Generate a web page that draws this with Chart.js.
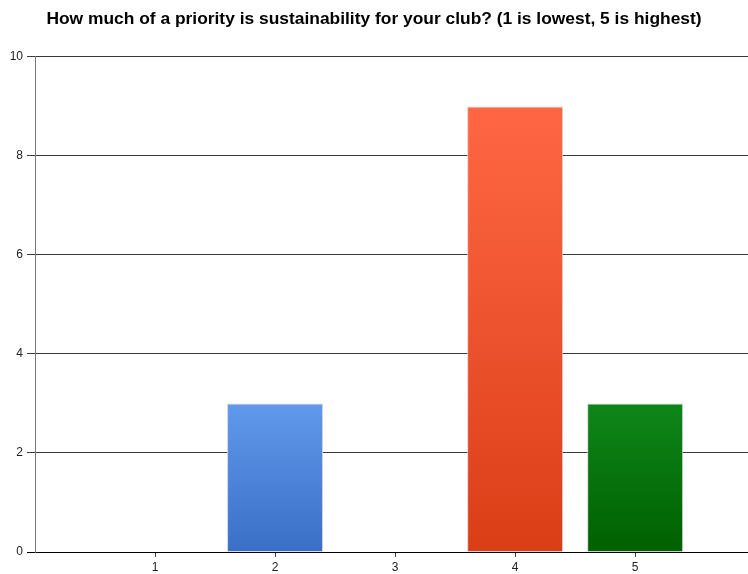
<!DOCTYPE html>
<html>
<head>
<meta charset="utf-8">
<script src="https://cdn.jsdelivr.net/npm/chart.js@4/dist/chart.umd.min.js"></script>
<style>
  html, body { margin: 0; padding: 0; background: #ffffff; overflow: hidden; }
  #wrap { width: 748px; height: 574px; position: relative; }
</style>
</head>
<body>
<div id="wrap"><canvas id="c" width="748" height="574"></canvas></div>
<script>
// Survey answers: priority rating (1 = lowest, 5 = highest) and number of clubs
const ratings = [1, 2, 3, 4, 5];
const clubCounts = [0, 3, 0, 9, 3];
const yTickValues = [0, 2, 4, 6, 8, 10];
const titleText = 'How much of a priority is sustainability for your club? (1 is lowest, 5 is highest)';

// top / bottom gradient colours for each bar
const barTopColors = ['#6a9eea', '#6199ec', '#6a9eea', '#ff6744', '#0e8619'];
const barBottomColors = ['#3a6fc6', '#3a6fc6', '#3a6fc6', '#da3e17', '#006000'];

function barGradient(ctx) {
  const chart = ctx.chart;
  const area = chart.chartArea;
  if (!area || !chart.scales.y) return barTopColors[ctx.dataIndex];
  const v = ctx.raw && ctx.raw.y !== undefined ? ctx.raw.y : 0;
  const top = chart.scales.y.getPixelForValue(v);
  const bottom = chart.scales.y.getPixelForValue(0);
  const g = chart.ctx.createLinearGradient(0, top, 0, bottom === top ? top + 1 : bottom);
  g.addColorStop(0, barTopColors[ctx.dataIndex]);
  g.addColorStop(1, barBottomColors[ctx.dataIndex]);
  return g;
}

new Chart(document.getElementById('c'), {
  type: 'bar',
  data: {
    datasets: [{
      data: ratings.map((r, i) => ({ x: r, y: clubCounts[i] })),
      backgroundColor: barGradient,
      borderColor: '#d4d4d4',
      borderWidth: 1,
      borderSkipped: 'bottom',
      barPercentage: 0.8,
      categoryPercentage: 1.0
    }]
  },
  options: {
    responsive: false,
    animation: false,
    layout: { padding: { left: 0, right: 0, top: 0, bottom: 0 } },
    plugins: {
      legend: { display: false },
      tooltip: { enabled: false },
      title: {
        display: true,
        text: titleText,
        color: '#000000',
        font: { family: '"Liberation Sans", Arial, sans-serif', size: 17.4, weight: 'bold' },
        padding: { top: 9, bottom: 27 }
      }
    },
    scales: {
      x: {
        type: 'linear',
        min: 0,
        max: 5.94,
        offset: false,
        afterBuildTicks: (scale) => { scale.ticks = ratings.map(v => ({ value: v })); },
        afterFit: (scale) => { scale.height = 22; },
        ticks: {
          color: '#222222',
          font: { family: '"Liberation Sans", Arial, sans-serif', size: 12 },
          padding: 3,
          maxRotation: 0,
          autoSkip: false
        },
        grid: { display: true, offset: false, drawOnChartArea: false, drawTicks: true, tickLength: 5, color: '#444444' },
        border: { display: true, color: '#000000', width: 1 }
      },
      y: {
        min: 0,
        max: 10,
        afterBuildTicks: (scale) => { scale.ticks = yTickValues.map(v => ({ value: v })); },
        afterFit: (scale) => { scale.width = 35; },
        ticks: {
          color: '#222222',
          font: { family: '"Liberation Sans", Arial, sans-serif', size: 12 },
          padding: 4
        },
        grid: {
          color: (c) => (c.tick && c.tick.value === 0 ? '#000000' : '#3a3a3a'),
          lineWidth: 1,
          tickLength: 8
        },
        border: { display: true, color: '#777777', width: 1 }
      }
    }
  }
});
</script>
</body>
</html>
